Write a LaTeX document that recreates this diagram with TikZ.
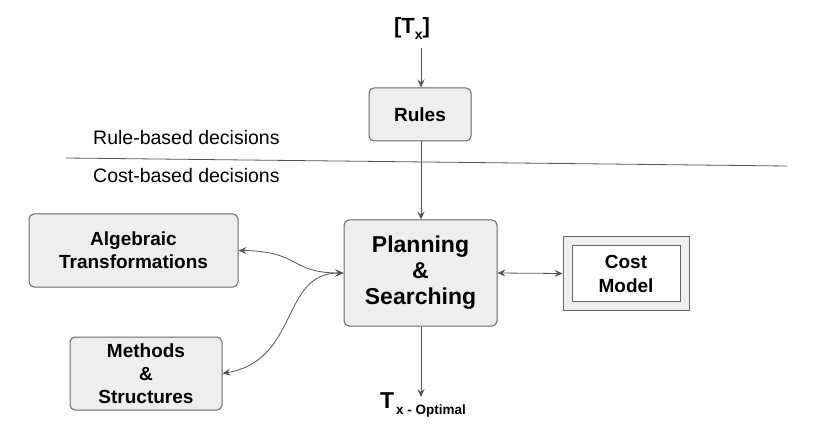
\documentclass[tikz,border=0pt]{standalone}
\usepackage{fontspec}
\setmainfont{Liberation Sans}
\usetikzlibrary{arrows.meta}
\definecolor{boxfill}{HTML}{EEEEEE}
\definecolor{boxdraw}{HTML}{666666}
\definecolor{linec}{HTML}{555555}
\tikzset{
  box/.style={draw=boxdraw, fill=boxfill, rounded corners=5pt, line width=1pt, align=center, font=\bfseries\fontsize{19}{23}\selectfont, inner sep=0pt},
  conn/.style={draw=linec, line width=0.8pt},
  arr/.style={conn, -{Stealth[length=8pt,width=7pt,inset=3pt]}},
  darr/.style={conn, {Stealth[length=8pt,width=7pt,inset=3pt]}-{Stealth[length=8pt,width=7pt,inset=3pt]}},
  lbl/.style={font=\fontsize{19.5}{22}\selectfont, anchor=west, inner sep=0pt}
}
\begin{document}
\begin{tikzpicture}[x=1pt,y=-1pt]
\useasboundingbox (0,0) rectangle (826,443);
\node[inner sep=0pt, font=\bfseries\fontsize{22}{26}\selectfont] (tx) at (412,29) {[T\raisebox{-6pt}{\fontsize{14}{15}\selectfont x}]};
\node[box, minimum width=102pt, minimum height=53pt] (rules) at (420,114.5) {Rules};
\node[box, minimum width=153pt, minimum height=106pt, font=\bfseries\fontsize{23}{26}\selectfont] (plan) at (420.5,273) {Planning\\\&\\Searching};
\node[box, minimum width=209pt, minimum height=73pt] (alg) at (133.5,250.5) {Algebraic\\Transformations};
\node[box, minimum width=152pt, minimum height=73pt] (meth) at (146,373.5) {Methods\\\&\\Structures};
\node[draw=boxdraw, fill=boxfill, line width=1pt, minimum width=126pt, minimum height=73pt, inner sep=0pt] (costout) at (626,273.5) {};
\node[draw=boxdraw, fill=white, line width=1pt, minimum width=108pt, minimum height=55pt, inner sep=0pt, align=center, font=\bfseries\fontsize{19}{24}\selectfont] (cost) at (626,273.5) {Cost\\Model};
\coordinate (tin) at (421,48);
\coordinate (opt) at (421,397);
\node[inner sep=0pt, anchor=south west, font=\bfseries\fontsize{23}{25}\selectfont] (T) at (380,409) {T};
\node[inner sep=0pt, anchor=west, font=\bfseries\fontsize{13.5}{15}\selectfont] (Tsub) at (396,411) {x - Optimal};
\coordinate (la) at (66,158);
\coordinate (lb) at (787,166);
\draw[draw=linec, line width=0.8pt] (la) -- (lb);
\node[lbl] (rb) at (93,138) {Rule-based decisions};
\node[lbl] (cb) at (93,176) {Cost-based decisions};
\draw[arr] (tin) -- (rules.north -| tin);
\draw[arr] (rules.south -| tin) -- (plan.north -| tin);
\draw[arr] (plan.south -| opt) -- (opt);
\draw[darr] (plan.east) -- (costout.west);
\draw[darr] (alg.east) .. controls (300,251) and (290,273) .. (plan.west);
\draw[darr] (meth.east) .. controls (300,360) and (280,273) .. (plan.west);
\end{tikzpicture}
\end{document}
